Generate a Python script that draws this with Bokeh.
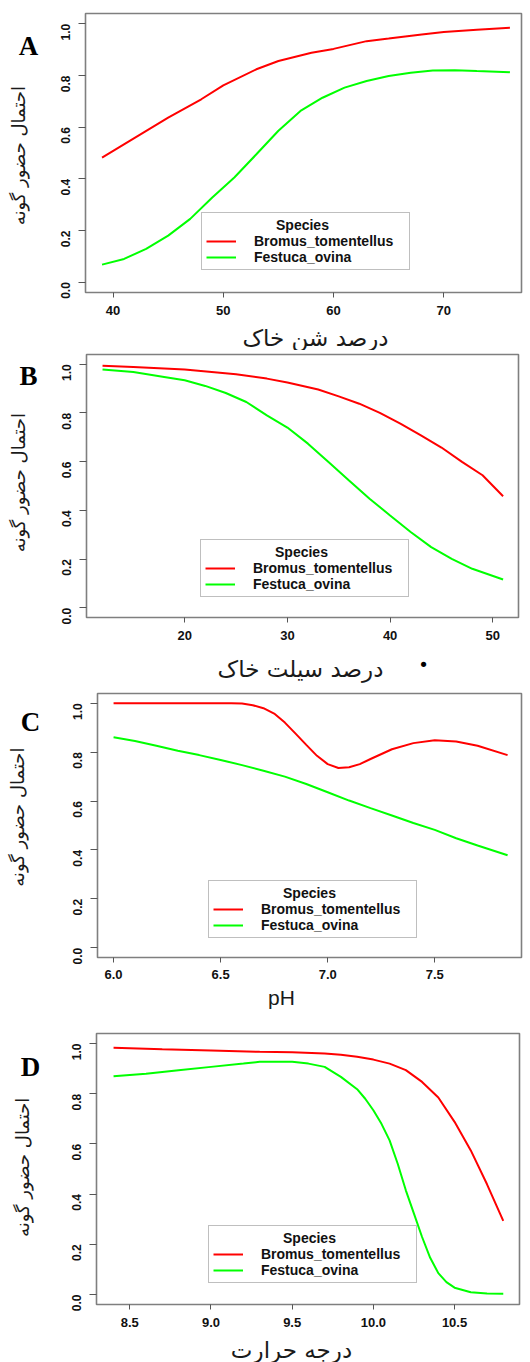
import math
from bokeh.plotting import figure
from bokeh.models import FixedTicker, Legend, LegendItem, Range1d
from bokeh.layouts import column, row
from bokeh.core.properties import value
from bokeh.embed import file_html
from bokeh.resources import INLINE

# ---------------- data ----------------
species = ["Bromus_tomentellus", "Festuca_ovina"]
series_colors = ["#ff0000", "#00ff00"]
y_title = "احتمال حضور گونه"
panel_letters = ["A", "B", "C", "D"]
y_ticks = [0.0, 0.2, 0.4, 0.6, 0.8, 1.0]
y_tick_labels = ["0.0", "0.2", "0.4", "0.6", "0.8", "1.0"]

# Panel A: sand %
sand_title = "درصد شن خاک"
sand_ticks = [40, 50, 60, 70]
sand_tick_labels = ["40", "50", "60", "70"]
sand_x_bromus = [39, 45, 48, 50, 53, 55, 58, 60, 63, 65, 68, 70, 73, 76]
sand_bromus = [0.482, 0.637, 0.708, 0.762, 0.824, 0.856, 0.888, 0.903, 0.933,
               0.943, 0.959, 0.968, 0.977, 0.985]
sand_x_festuca = [39, 41, 43, 45, 47, 49, 51, 53, 55, 57, 59, 61, 63, 65, 67, 69, 71, 73, 76]
sand_festuca = [0.068, 0.09, 0.129, 0.18, 0.245, 0.328, 0.405, 0.495, 0.586, 0.663,
                0.714, 0.753, 0.779, 0.798, 0.811, 0.819, 0.820, 0.817, 0.813]

# Panel B: silt %
silt_title = "درصد سیلت خاک"
silt_ticks = [20, 30, 40, 50]
silt_tick_labels = ["20", "30", "40", "50"]
silt_x_bromus = [12, 15, 20, 25, 28, 30, 33, 35, 37, 39, 41, 43, 45, 47, 49, 51]
silt_bromus = [0.994, 0.989, 0.978, 0.959, 0.941, 0.925, 0.896, 0.868, 0.838, 0.80,
               0.756, 0.708, 0.658, 0.599, 0.544, 0.458]
silt_x_festuca = [12, 15, 18, 20, 22, 24, 26, 28, 30, 32, 34, 36, 38, 40, 42, 44, 46, 48, 51]
silt_festuca = [0.978, 0.968, 0.948, 0.934, 0.911, 0.882, 0.845, 0.79, 0.74, 0.674,
                0.599, 0.523, 0.448, 0.379, 0.311, 0.249, 0.201, 0.16, 0.116]

# Panel C: pH
ph_title = "pH"
ph_ticks = [6.0, 6.5, 7.0, 7.5]
ph_tick_labels = ["6.0", "6.5", "7.0", "7.5"]
ph_x_bromus = [6.0, 6.2, 6.4, 6.55, 6.6, 6.65, 6.7, 6.75, 6.8, 6.85, 6.9, 6.95, 7.0,
               7.05, 7.1, 7.15, 7.2, 7.3, 7.4, 7.5, 7.6, 7.7, 7.84]
ph_bromus = [1.0, 1.0, 1.0, 1.0, 0.999, 0.992, 0.98, 0.958, 0.921, 0.876, 0.83, 0.785,
             0.751, 0.735, 0.738, 0.751, 0.772, 0.812, 0.837, 0.849, 0.844, 0.826, 0.788]
ph_x_festuca = [6.0, 6.1, 6.2, 6.3, 6.4, 6.5, 6.6, 6.7, 6.8, 6.9, 7.0, 7.1, 7.2, 7.3,
                7.4, 7.5, 7.6, 7.7, 7.84]
ph_festuca = [0.861, 0.846, 0.826, 0.806, 0.788, 0.768, 0.747, 0.724, 0.70, 0.67, 0.636,
              0.602, 0.571, 0.541, 0.51, 0.482, 0.448, 0.418, 0.378]

# Panel D: temperature
temp_title = "درجه حرارت"
temp_ticks = [8.5, 9.0, 9.5, 10.0, 10.5]
temp_tick_labels = ["8.5", "9.0", "9.5", "10.0", "10.5"]
temp_x_bromus = [8.4, 8.7, 9.0, 9.3, 9.5, 9.7, 9.8, 9.9, 10.0, 10.1, 10.2, 10.3, 10.4,
                 10.5, 10.6, 10.7, 10.8]
temp_bromus = [0.983, 0.977, 0.972, 0.967, 0.965, 0.96, 0.955, 0.947, 0.936, 0.92, 0.894,
               0.847, 0.785, 0.688, 0.574, 0.439, 0.293]
temp_x_festuca = [8.4, 8.6, 8.8, 9.0, 9.2, 9.3, 9.5, 9.6, 9.7, 9.8, 9.9, 9.95, 10.0, 10.05,
                  10.1, 10.15, 10.2, 10.25, 10.3, 10.35, 10.4, 10.45, 10.5, 10.6, 10.7, 10.8]
temp_festuca = [0.87, 0.88, 0.894, 0.907, 0.92, 0.927, 0.927, 0.92, 0.907, 0.867, 0.818,
                0.78, 0.734, 0.68, 0.614, 0.521, 0.415, 0.322, 0.229, 0.146, 0.085, 0.049,
                0.027, 0.009, 0.004, 0.003]

# ---------------- layout settings (pixels) ----------------
W = 530          # total width
LW = 46          # left strip width (panel letter + y title)
FRAME_GRAY = "#7f7f7f"
TICK_FONT = "Liberation Sans"
FA_FONT = "DejaVu Sans"
TEXT_COLOR = "#1a1a1a"

panels = [
    dict(letter="A", title=sand_title, ticks=sand_ticks, tick_labels=sand_tick_labels,
         xr=(37.5, 77.05), h=322, mb=(39, 9, 13, 30), bh=28, xstand=8,
         letter_pos=(28, 37), ytitle_pos=(18, 164), xtitle_pos=(315, 15),
         title_font=FA_FONT, title_size="23px", bullet=None,
         xb=sand_x_bromus, yb=sand_bromus, xf=sand_x_festuca, yf=sand_festuca,
         legend_loc=(116, 22)),
    dict(letter="B", title=silt_title, ticks=silt_ticks, tick_labels=silt_tick_labels,
         xr=(10.44, 52.5), h=302, mb=(40, 12, 4, 35), bh=32, xstand=8,
         letter_pos=(28, 25), ytitle_pos=(18, 147), xtitle_pos=(300, 16),
         title_font=FA_FONT, title_size="23px", bullet=(423, 12),
         xb=silt_x_bromus, yb=silt_bromus, xf=silt_x_festuca, yf=silt_festuca,
         legend_loc=(114, 20)),
    dict(letter="C", title=ph_title, ticks=ph_ticks, tick_labels=ph_tick_labels,
         xr=(5.925, 7.905), h=301, mb=(51, 9, 9, 28), bh=33, xstand=7,
         letter_pos=(30, 33), ytitle_pos=(17, 141), xtitle_pos=(281, 12),
         title_font="Liberation Sans", title_size="21px", bullet=None,
         xb=ph_x_bromus, yb=ph_bromus, xf=ph_x_festuca, yf=ph_festuca,
         legend_loc=(111, 19)),
    dict(letter="D", title=temp_title, ticks=temp_ticks, tick_labels=temp_tick_labels,
         xr=(8.295, 10.9), h=316, mb=(50, 11, 15, 30), bh=28, xstand=8,
         letter_pos=(30, 39), ytitle_pos=(22, 156), xtitle_pos=(291, 15),
         title_font=FA_FONT, title_size="23px", bullet=None,
         xb=temp_x_bromus, yb=temp_bromus, xf=temp_x_festuca, yf=temp_festuca,
         legend_loc=(112, 21)),
]


def blank(width, height):
    """A figure without axes whose frame fills it, with pixel-like ranges (y from top)."""
    f = figure(width=width, height=height, output_backend="svg", toolbar_location=None,
               x_range=Range1d(0, width), y_range=Range1d(height, 0),
               x_axis_type=None, y_axis_type=None,
               min_border=0, min_border_left=0, min_border_right=0,
               min_border_top=0, min_border_bottom=0)
    f.xgrid.visible = False
    f.ygrid.visible = False
    f.outline_line_color = None
    f.background_fill_color = "white"
    f.border_fill_color = "white"
    return f


Y0, Y1 = -0.04, 1.04
blocks = []
for cfg in panels:
    mbl, mbr, mbt, mbb = cfg["mb"]
    p = figure(width=W - LW, height=cfg["h"], output_backend="svg", toolbar_location=None,
               x_range=Range1d(*cfg["xr"]), y_range=Range1d(Y0, Y1),
               min_border_left=mbl, min_border_right=mbr, min_border_top=mbt,
               min_border_bottom=mbb)
    p.xgrid.visible = False
    p.ygrid.visible = False
    p.outline_line_color = FRAME_GRAY
    p.outline_line_width = 1.6
    p.background_fill_color = "white"
    p.border_fill_color = "white"

    r1 = p.line(cfg["xb"], cfg["yb"], line_color=series_colors[0], line_width=2)
    r2 = p.line(cfg["xf"], cfg["yf"], line_color=series_colors[1], line_width=2)

    # x axis
    xa = p.xaxis[0]
    xa.ticker = FixedTicker(ticks=cfg["ticks"])
    xa.major_label_overrides = {t: l for t, l in zip(cfg["ticks"], cfg["tick_labels"])}
    xa.minor_tick_line_color = None
    xa.axis_line_color = None
    xa.major_tick_out = 5
    xa.major_tick_in = 0
    xa.major_tick_line_color = "#555555"
    xa.major_label_standoff = cfg["xstand"]
    xa.major_label_text_font = TICK_FONT
    xa.major_label_text_font_size = "13px"
    xa.major_label_text_font_style = "bold"
    xa.major_label_text_color = "#111111"

    # y axis
    ya = p.yaxis[0]
    ya.ticker = FixedTicker(ticks=y_ticks)
    ya.major_label_overrides = {t: l for t, l in zip(y_ticks, y_tick_labels)}
    ya.minor_tick_line_color = None
    ya.axis_line_color = None
    ya.major_tick_out = 7
    ya.major_tick_in = 0
    ya.major_tick_line_color = "#555555"
    ya.major_label_standoff = 13
    ya.major_label_orientation = math.pi / 2
    ya.major_label_text_font = TICK_FONT
    ya.major_label_text_font_size = "12px"
    ya.major_label_text_font_style = "bold"
    ya.major_label_text_color = "#111111"

    # legend
    legend = Legend(
        items=[LegendItem(label=species[0], renderers=[r1]),
               LegendItem(label=species[1], renderers=[r2])],
        location=cfg["legend_loc"], margin=0, padding=4,
        title="\u00a0" * 18 + "Species", title_standoff=0,
        title_text_font=TICK_FONT, title_text_font_size="14px",
        title_text_font_style="bold", title_text_color="#111111",
        label_text_font=TICK_FONT, label_text_font_size="14px",
        label_text_font_style="bold", label_text_color="#111111",
        label_height=14, glyph_height=14, glyph_width=30, label_standoff=18,
        label_width=151, spacing=0,
        border_line_color=FRAME_GRAY, border_line_width=1.5,
        background_fill_color="white", background_fill_alpha=1.0,
    )
    p.add_layout(legend)

    # left strip: panel letter and rotated y title
    ls = blank(LW, cfg["h"])
    lx, ly = cfg["letter_pos"]
    ls.text(x=[lx], y=[ly], text=[cfg["letter"]], text_font=value("Liberation Serif"),
            text_font_size=value("27px"), text_font_style="bold", text_color="black",
            text_align="center", text_baseline="middle")
    tx, ty = cfg["ytitle_pos"]
    ls.text(x=[tx], y=[ty], text=[y_title], angle=math.pi / 2,
            text_font=value(FA_FONT), text_font_size=value("18px"),
            text_color=TEXT_COLOR, text_align="center", text_baseline="middle")

    # bottom strip: x title
    bs = blank(W, cfg["bh"])
    bx, by = cfg["xtitle_pos"]
    bs.text(x=[bx], y=[by], text=[cfg["title"]], text_font=value(cfg["title_font"]),
            text_font_size=value(cfg["title_size"]), text_color=TEXT_COLOR,
            text_align="center", text_baseline="middle")
    if cfg["bullet"] is not None:
        ux, uy = cfg["bullet"]
        bs.text(x=[ux], y=[uy], text=["•"], text_font=value(FA_FONT),
                text_font_size=value("18px"), text_color="black",
                text_align="center", text_baseline="middle")

    blocks.append(column(row(ls, p, spacing=0), bs, spacing=0))

layout = column(*blocks, spacing=0)
open("out.html", "w").write(file_html(layout, INLINE))
